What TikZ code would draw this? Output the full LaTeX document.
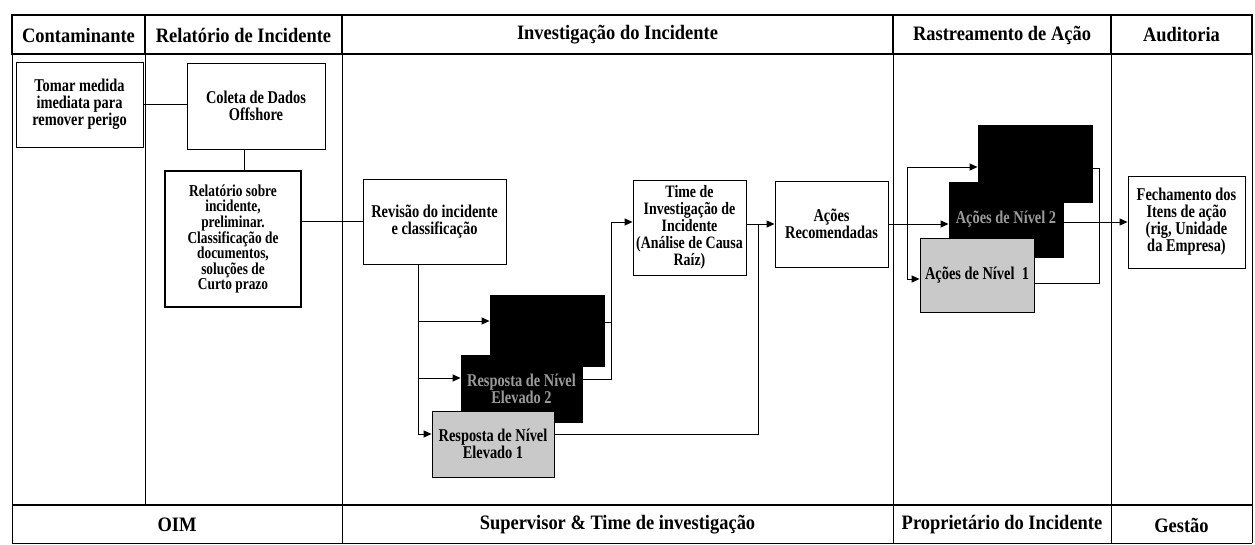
\documentclass[tikz,border=0pt]{standalone}
\usepackage{fontspec}
\setmainfont{Liberation Serif}
\newfontfamily\boxserif{Liberation Serif}[FakeStretch=0.8]
\newfontfamily\headserif{Liberation Serif}[FakeStretch=0.9]
\usetikzlibrary{arrows.meta,calc}
\definecolor{speckgray}{HTML}{C9C9C9}
\definecolor{dimtext}{HTML}{9A9A9A}
\newcommand{\hdfont}{\headserif\fontsize{20.5}{24}\selectfont\bfseries}
\newcommand{\bxfont}{\boxserif\fontsize{18}{17}\selectfont\bfseries}
\newcommand{\smfont}{\boxserif\fontsize{16.7}{15.3}\selectfont\bfseries}
\newcommand{\tmfont}{\boxserif\fontsize{17.4}{17}\selectfont\bfseries}

\begin{document}
\begin{tikzpicture}[x=1pt,y=-1pt,
    box/.style={draw,fill=white,align=center,inner sep=1pt,font=\bxfont,line width=0.9pt},
    dark/.style={box,fill=black,text=dimtext},
    light/.style={box,fill=speckgray},
    hd/.style={font=\hdfont,inner sep=0pt},
    lane/.style={line width=0.9pt},
    rule/.style={line width=2.2pt},
    arr/.style={-{Triangle[length=8pt,width=7pt]},line width=0.9pt}
  ]
  \useasboundingbox (0,0) rectangle (1255,545);
  % lanes
  \draw[lane] (12,54) -- (12,543);
  \draw[lane] (1252,54) -- (1252,543);
  \draw[lane] (145,54) -- (145,505);
  \draw[lane] (342,54) -- (342,543);
  \draw[lane] (893,54) -- (893,543);
  \draw[lane] (1111,54) -- (1111,543);
  \draw[lane] (12,543) -- (1252,543);
  \draw[rule] (12,505) -- (1252,505);
  \draw[rule] (12,15) rectangle (1252,54);
  \draw[line width=1.4pt] (145,15) -- (145,54);
  \draw[line width=1.4pt] (342,15) -- (342,54);
  \draw[line width=1.4pt] (893,15) -- (893,54);
  \draw[line width=1.4pt] (1111,15) -- (1111,54);

  \node[hd] (hcont) at (78.5,35) {Contaminante};
  \node[hd] (hrel) at (243.5,35) {Relatório de Incidente};
  \node[hd] (hinv) at (617.5,35) {Investigação do Incidente};
  \node[hd] (hras) at (1002,35) {Rastreamento de Ação};
  \node[hd] (haud) at (1181.5,35) {Auditoria};
  \node[hd] (foim) at (177,525) {OIM};
  \node[hd] (fsup) at (617.5,525) {Supervisor \& Time de investigação};
  \node[hd] (fprop) at (1002,525) {Proprietário do Incidente};
  \node[hd] (fges) at (1181.5,525) {Gestão};

  % boxes
  \node[box,minimum width=127,minimum height=85] (tomar) at (79.5,104.5) {Tomar medida\\imediata para\\remover perigo};
  \node[box,minimum width=138,minimum height=86] (coleta) at (256,106) {Coleta de Dados\\Offshore};
  \node[box,line width=2.6pt,font=\smfont,minimum width=136,minimum height=136] (relat) at (233,239) {Relatório sobre\\incidente,\\preliminar.\\Classificação de\\documentos,\\soluções de\\Curto prazo};
  \node[box,minimum width=143,minimum height=85] (revisao) at (434.5,221.5) {Revisão do incidente\\e classificação};
  \node[dark,minimum width=114,minimum height=71] (b3) at (547,330.5) {};
  \node[dark,minimum width=121,minimum height=67] (b2) at (521.5,388.5) {Resposta de Nível\\Elevado 2};
  \node[light,minimum width=122,minimum height=66] (b1) at (493,444) {Resposta de Nível\\Elevado 1};
  \node[box,font=\tmfont,minimum width=113,minimum height=95] (time) at (689.5,227.5) {Time de\\Investigação de\\Incidente\\(Análise de Causa\\Raíz)};
  \node[box,minimum width=113,minimum height=86] (acoes) at (831.5,224) {Ações\\Recomendadas};
  \node[dark,minimum width=114,minimum height=77] (r3) at (1035,163.5) {};
  \node[dark,minimum width=114,minimum height=75] (r2) at (1006,219.5) {Ações de Nível 2};
  \node[light,minimum width=114,minimum height=74] (r1) at (977,275) {Ações de Nível\ \ 1};
  \node[box,minimum width=117,minimum height=92] (fech) at (1186.5,222) {Fechamento dos\\Itens de ação\\(rig, Unidade\\da Empresa)};

  % connectors
  \draw[lane] (tomar.east) -- (tomar.east -| coleta.west);
  \coordinate (cd) at ($(coleta.south)+(-12,0)$);
  \draw[lane] (cd) -- (cd |- relat.north);
  \draw[lane] (relat.east |- revisao.west) -- (revisao.west);
  \coordinate (tr) at ($(revisao.south west)+(56,0)$);
  \draw[arr] (tr) |- ($(b3.west)+(0,-9.5)$);
  \draw[arr] (tr) |- ($(b2.west)+(0,-10.5)$);
  \draw[arr] (tr) |- ($(b1.west)+(0,-10)$);
  \coordinate (tin) at ($(time.west)+(0,-5.5)$);
  \coordinate (mg) at ($(tin)+(-21,0)$);
  \draw[arr] ($(b2.east)+(0,-9.5)$) -| (mg) -- (tin);
  \draw[lane] ($(b3.east)+(0,-8.5)$) -| (mg);
  \draw[arr] (time.east |- acoes.west) -- (acoes.west);
  \draw[lane] ($(b1.east)+(0,-10)$) -| ($(acoes.west)+(-16,0)$);
  \draw[arr] (acoes.east) -- (acoes.east -| r2.west);
  \coordinate (rf) at ($(acoes.east)+(19,0)$);
  \draw[arr] (rf) |- ($(r3.west)+(0,3.5)$);
  \draw[arr] (rf) |- ($(r1.west)+(0,4)$);
  \draw[lane] ($(r3.east)+(0,4.5)$) -| ($(r1.east)+(65,8)$) -- ($(r1.east)+(0,8)$);
  \draw[arr] (fech.west -| r2.east) -- (fech.west);
\end{tikzpicture}
\end{document}
